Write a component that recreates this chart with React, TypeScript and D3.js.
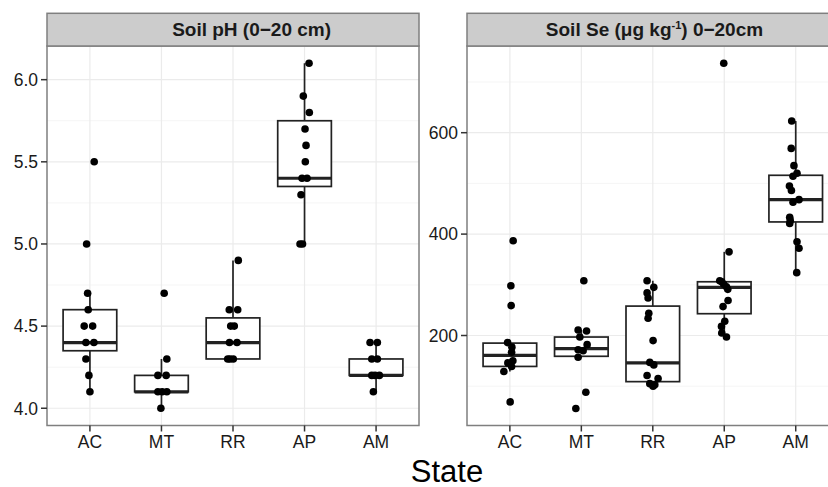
import React from "react";
import * as d3 from "d3";

// ---------- data ----------
const states = ["AC", "MT", "RR", "AP", "AM"];

// Soil pH (0-20 cm): values and horizontal jitter (in category units)
const phValues: number[][] = [
  [5.5, 5.0, 4.7, 4.6, 4.5, 4.5, 4.4, 4.4, 4.3, 4.2, 4.1],
  [4.7, 4.3, 4.2, 4.2, 4.1, 4.1, 4.1, 4.0],
  [4.9, 4.6, 4.6, 4.5, 4.5, 4.4, 4.4, 4.3, 4.3, 4.3],
  [6.1, 5.9, 5.8, 5.7, 5.6, 5.5, 5.4, 5.4, 5.3, 5.0, 5.0],
  [4.4, 4.4, 4.3, 4.3, 4.2, 4.2, 4.2, 4.1],
];
const phJitter: number[][] = [
  [0.06, -0.046, -0.032, -0.024, -0.08, 0.038, -0.056, 0.056, -0.056, -0.014, 0],
  [0.038, 0.075, -0.05, 0.066, -0.05, 0.075, 0.01, -0.008],
  [0.074, -0.052, 0.066, -0.032, 0.018, -0.049, 0.056, -0.074, 0.004, -0.042],
  [0.063, -0.017, 0.067, 0.007, 0.021, 0.011, -0.035, 0.035, -0.049, -0.063, -0.028],
  [-0.084, 0.018, -0.06, 0.018, -0.06, 0.046, -0.014, -0.038],
];
// box stats: [lower whisker, q1, median, q3, upper whisker]
const phBox: number[][] = [
  [4.1, 4.35, 4.4, 4.6, 4.7],
  [4.0, 4.1, 4.1, 4.2, 4.3],
  [4.3, 4.3, 4.4, 4.55, 4.9],
  [5.0, 5.35, 5.4, 5.75, 6.1],
  [4.1, 4.2, 4.2, 4.3, 4.4],
];
const phTicks = [4.0, 4.5, 5.0, 5.5, 6.0];
const phMinor = [4.25, 4.75, 5.25, 5.75];

// Soil Se (ug/kg) 0-20 cm
const seValues: number[][] = [
  [387, 298, 259, 186, 177, 167, 150, 146, 139, 129, 69],
  [308, 211, 209, 197, 182, 172, 170, 157, 88, 56],
  [308, 295, 284, 274, 244, 234, 190, 147, 142, 121, 115, 105, 103, 100],
  [737, 365, 308, 306, 301, 296, 291, 269, 257, 228, 218, 205, 197],
  [623, 569, 535, 520, 514, 495, 486, 468, 463, 433, 427, 421, 385, 372, 324],
];
const seJitter: number[][] = [
  [0.046, 0.014, 0.018, -0.032, 0.028, 0.024, 0.042, -0.028, 0.024, -0.084, 0.004],
  [0.035, -0.045, 0.073, -0.021, 0.081, -0.045, 0.025, -0.045, 0.063, -0.077],
  [-0.08, 0.014, -0.08, -0.066, -0.056, -0.066, 0.004, -0.042, 0.014, -0.08, 0.074, -0.042, 0.028, 0.004],
  [-0.007, 0.067, -0.063, -0.035, -0.007, 0.031, 0.049, 0.053, -0.017, 0.007, -0.039, -0.035, 0.031],
  [-0.056, -0.063, -0.025, 0.018, -0.038, -0.088, -0.06, 0.046, -0.038, -0.084, -0.077, -0.084, 0.018, 0.046, 0.014],
];
const seBox: number[][] = [
  [129, 139, 161, 185, 186],
  [157, 159, 174, 197, 211],
  [100, 109, 146, 258, 308],
  [197, 243, 295, 306, 365],
  [324, 424, 468, 516, 623],
];
const seTicks = [200, 400, 600];
const seMinor = [100, 300, 500, 700];

// ---------- layout ----------
const W = 828;
const H = 487;
const panelTop = 46;
const panelBottom = 425.5;
const stripTop = 13.3;

const FONT = "'Liberation Sans', Arial, Helvetica, sans-serif";

type PanelProps = {
  left: number;
  right: number;
  domain: [number, number];
  values: number[][];
  jitter: number[][];
  box: number[][];
  ticks: number[];
  minor: number[];
  fmt: (v: number) => string;
  title: React.ReactNode;
  titleX: number;
};

function Panel(p: PanelProps) {
  const x = d3.scaleLinear().domain([0.4, states.length + 0.6]).range([p.left, p.right]);
  const y = d3.scaleLinear().domain(p.domain).range([panelBottom, panelTop]);
  const half = x(1.375) - x(1);
  return (
    <g>
      <rect x={p.left} y={panelTop} width={p.right - p.left} height={panelBottom - panelTop} fill="#ffffff" />
      {p.minor.map((v) => (
        <line key={"mi" + v} x1={p.left} x2={p.right} y1={y(v)} y2={y(v)} stroke="#f5f5f5" strokeWidth={1} />
      ))}
      {p.ticks.map((v) => (
        <line key={"ma" + v} x1={p.left} x2={p.right} y1={y(v)} y2={y(v)} stroke="#ebebeb" strokeWidth={1.2} />
      ))}
      {states.map((s, i) => (
        <line key={"vx" + s} x1={x(i + 1)} x2={x(i + 1)} y1={panelTop} y2={panelBottom} stroke="#ebebeb" strokeWidth={1.2} />
      ))}
      {p.box.map((b, i) => {
        const cx = x(i + 1);
        return (
          <g key={"b" + i}>
            <line x1={cx} x2={cx} y1={y(b[0])} y2={y(b[1])} stroke="#222" strokeWidth={1.7} />
            <line x1={cx} x2={cx} y1={y(b[3])} y2={y(b[4])} stroke="#222" strokeWidth={1.7} />
            <rect x={cx - half} y={y(b[3])} width={half * 2} height={y(b[1]) - y(b[3])} fill="#fff" stroke="#222" strokeWidth={1.7} />
            <line x1={cx - half} x2={cx + half} y1={y(b[2])} y2={y(b[2])} stroke="#222" strokeWidth={3.2} />
          </g>
        );
      })}
      {p.values.map((vals, i) =>
        vals.map((v, j) => (
          <circle key={"p" + i + "-" + j} cx={x(i + 1 + p.jitter[i][j])} cy={y(v)} r={3.8} fill="#000" />
        ))
      )}
      <rect x={p.left} y={panelTop} width={p.right - p.left} height={panelBottom - panelTop} fill="none" stroke="#7f7f7f" strokeWidth={1.5} />
      <rect x={p.left} y={stripTop} width={p.right - p.left} height={panelTop - stripTop} fill="#cccccc" stroke="#7f7f7f" strokeWidth={1.5} />
      <text x={p.titleX} y={35.5} textAnchor="middle" fontFamily={FONT} fontWeight="bold" fontSize={19} fill="#1a1a1a">
        {p.title}
      </text>
      {p.ticks.map((v) => (
        <g key={"yt" + v}>
          <line x1={p.left - 6} x2={p.left} y1={y(v)} y2={y(v)} stroke="#333" strokeWidth={1.5} />
          <text x={p.left - 9} y={y(v)} dy="0.36em" textAnchor="end" fontFamily={FONT} fontSize={17.5} fill="#1a1a1a">
            {p.fmt(v)}
          </text>
        </g>
      ))}
      {states.map((s, i) => (
        <g key={"xt" + s}>
          <line x1={x(i + 1)} x2={x(i + 1)} y1={panelBottom} y2={panelBottom + 6} stroke="#333" strokeWidth={1.5} />
          <text x={x(i + 1)} y={447.5} textAnchor="middle" fontFamily={FONT} fontSize={17.5} fill="#1a1a1a">
            {s}
          </text>
        </g>
      ))}
    </g>
  );
}

export default function App() {
  const f1 = d3.format(".1f");
  const f0 = d3.format("d");
  return (
    <svg width={W} height={H} style={{ position: "absolute", left: 0, top: 0, display: "block", background: "#fff" }}>
      <rect x={0} y={0} width={W} height={H} fill="#fff" />
      <Panel
        left={47}
        right={419}
        domain={[3.895, 6.205]}
        values={phValues}
        jitter={phJitter}
        box={phBox}
        ticks={phTicks}
        minor={phMinor}
        fmt={f1}
        title={"Soil pH (0\u221220 cm)"}
        titleX={251.6}
      />
      <Panel
        left={467}
        right={838.6}
        domain={[22.5, 771]}
        values={seValues}
        jitter={seJitter}
        box={seBox}
        ticks={seTicks}
        minor={seMinor}
        fmt={f0}
        title={
          <>
            <tspan>Soil Se (μg kg</tspan>
            <tspan fontSize={11} dy={-7}>-1</tspan>
            <tspan dy={7}>) 0−20cm</tspan>
          </>
        }
        titleX={654.5}
      />
      <text x={447} y={481.5} textAnchor="middle" fontFamily={FONT} fontSize={31} fill="#000">
        State
      </text>
    </svg>
  );
}
